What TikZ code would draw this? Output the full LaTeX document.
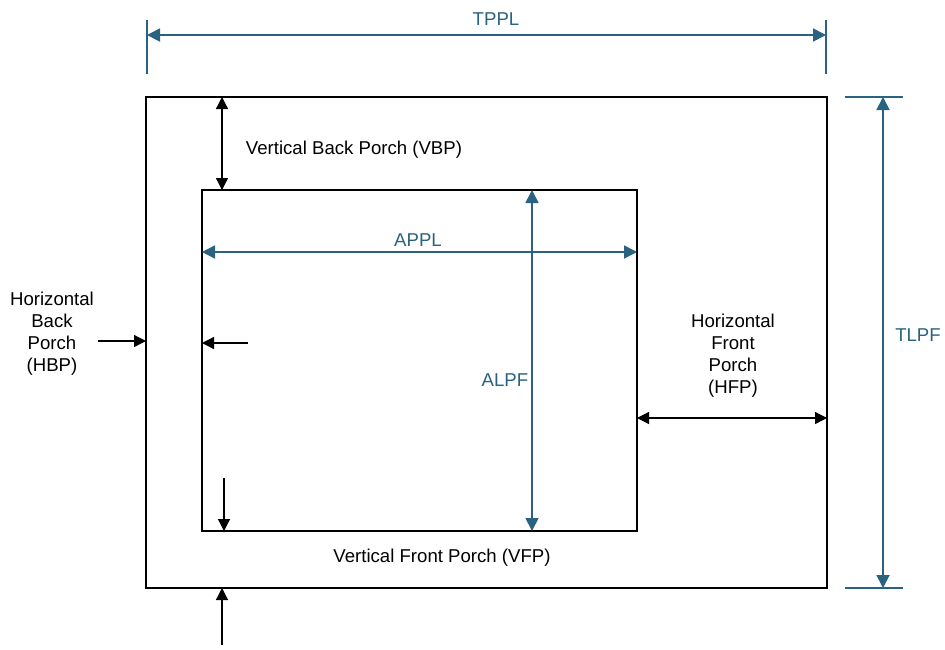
\documentclass[tikz,border=0pt]{standalone}
\usepackage{fontspec}
\setmainfont{Liberation Sans}
\usetikzlibrary{arrows.meta}
\definecolor{dim}{HTML}{2A6281}
\begin{document}
\begin{tikzpicture}[x=1pt,y=-1pt,
  frame/.style={draw=black,line width=2.6pt},
  blk/.style={draw=black,line width=1.3pt,-{Triangle[length=12pt,width=12pt]}},
  blkd/.style={draw=black,line width=1.3pt,{Triangle[length=12pt,width=12pt]}-{Triangle[length=12pt,width=12pt]}},
  dimd/.style={draw=dim,line width=1.8pt,{Triangle[length=13pt,width=13pt]}-{Triangle[length=13pt,width=13pt]}},
  tick/.style={draw=dim,line width=1.8pt},
  lbl/.style={font=\fontsize{18.6}{22}\selectfont,align=center,inner sep=0pt},
  dlbl/.style={lbl,text=dim}]
\useasboundingbox (0,0) rectangle (945,649);
% frames
\draw[frame] (146,97) rectangle (827,588);
\draw[frame] (202,190) rectangle (637,531);
% TPPL
\coordinate (t1a) at (147,20); \coordinate (t1b) at (147,74);
\coordinate (t2a) at (826,20); \coordinate (t2b) at (826,74);
\draw[tick] (t1a) -- (t1b);
\draw[tick] (t2a) -- (t2b);
\coordinate (tp1) at (147,35); \coordinate (tp2) at (826,35);
\draw[dimd] (tp1) -- (tp2);
\node[dlbl] (TPPL) at (496,19) {TPPL};
% TLPF
\coordinate (r1a) at (845,97); \coordinate (r1b) at (903,97);
\coordinate (r2a) at (845,588); \coordinate (r2b) at (903,588);
\draw[tick] (r1a) -- (r1b);
\draw[tick] (r2a) -- (r2b);
\coordinate (tl1) at (883,97); \coordinate (tl2) at (883,588);
\draw[dimd] (tl1) -- (tl2);
\node[dlbl] (TLPF) at (918,335) {TLPF};
% APPL
\coordinate (ap1) at (202,252); \coordinate (ap2) at (637,252);
\draw[dimd] (ap1) -- (ap2);
\node[dlbl] (APPL) at (418,240) {APPL};
% ALPF
\coordinate (al1) at (532,190); \coordinate (al2) at (532,531);
\draw[dimd] (al1) -- (al2);
\node[dlbl] (ALPF) at (505,380) {ALPF};
% VBP
\coordinate (vb1) at (222,97); \coordinate (vb2) at (222,190);
\draw[blkd] (vb1) -- (vb2);
\node[lbl] (VBP) at (354,150) {Vertical Back Porch (VBP)};
% HBP
\coordinate (hb1) at (98,341); \coordinate (hb2) at (146,341);
\draw[blk] (hb1) -- (hb2);
\coordinate (hb3) at (248,343); \coordinate (hb4) at (202,343);
\draw[blk] (hb3) -- (hb4);
\node[lbl] (HBP) at (52,334) {Horizontal\\Back\\Porch\\(HBP)};
% VFP
\coordinate (vf1) at (224,478); \coordinate (vf2) at (224,531);
\draw[blk] (vf1) -- (vf2);
\coordinate (vf3) at (222,645); \coordinate (vf4) at (222,588);
\draw[blk] (vf3) -- (vf4);
\node[lbl] (VFP) at (442,558) {Vertical Front Porch (VFP)};
% HFP
\coordinate (hf1) at (637,418); \coordinate (hf2) at (827,418);
\draw[blkd] (hf1) -- (hf2);
\node[lbl] (HFP) at (733,356) {Horizontal\\Front\\Porch\\(HFP)};
\end{tikzpicture}
\end{document}
